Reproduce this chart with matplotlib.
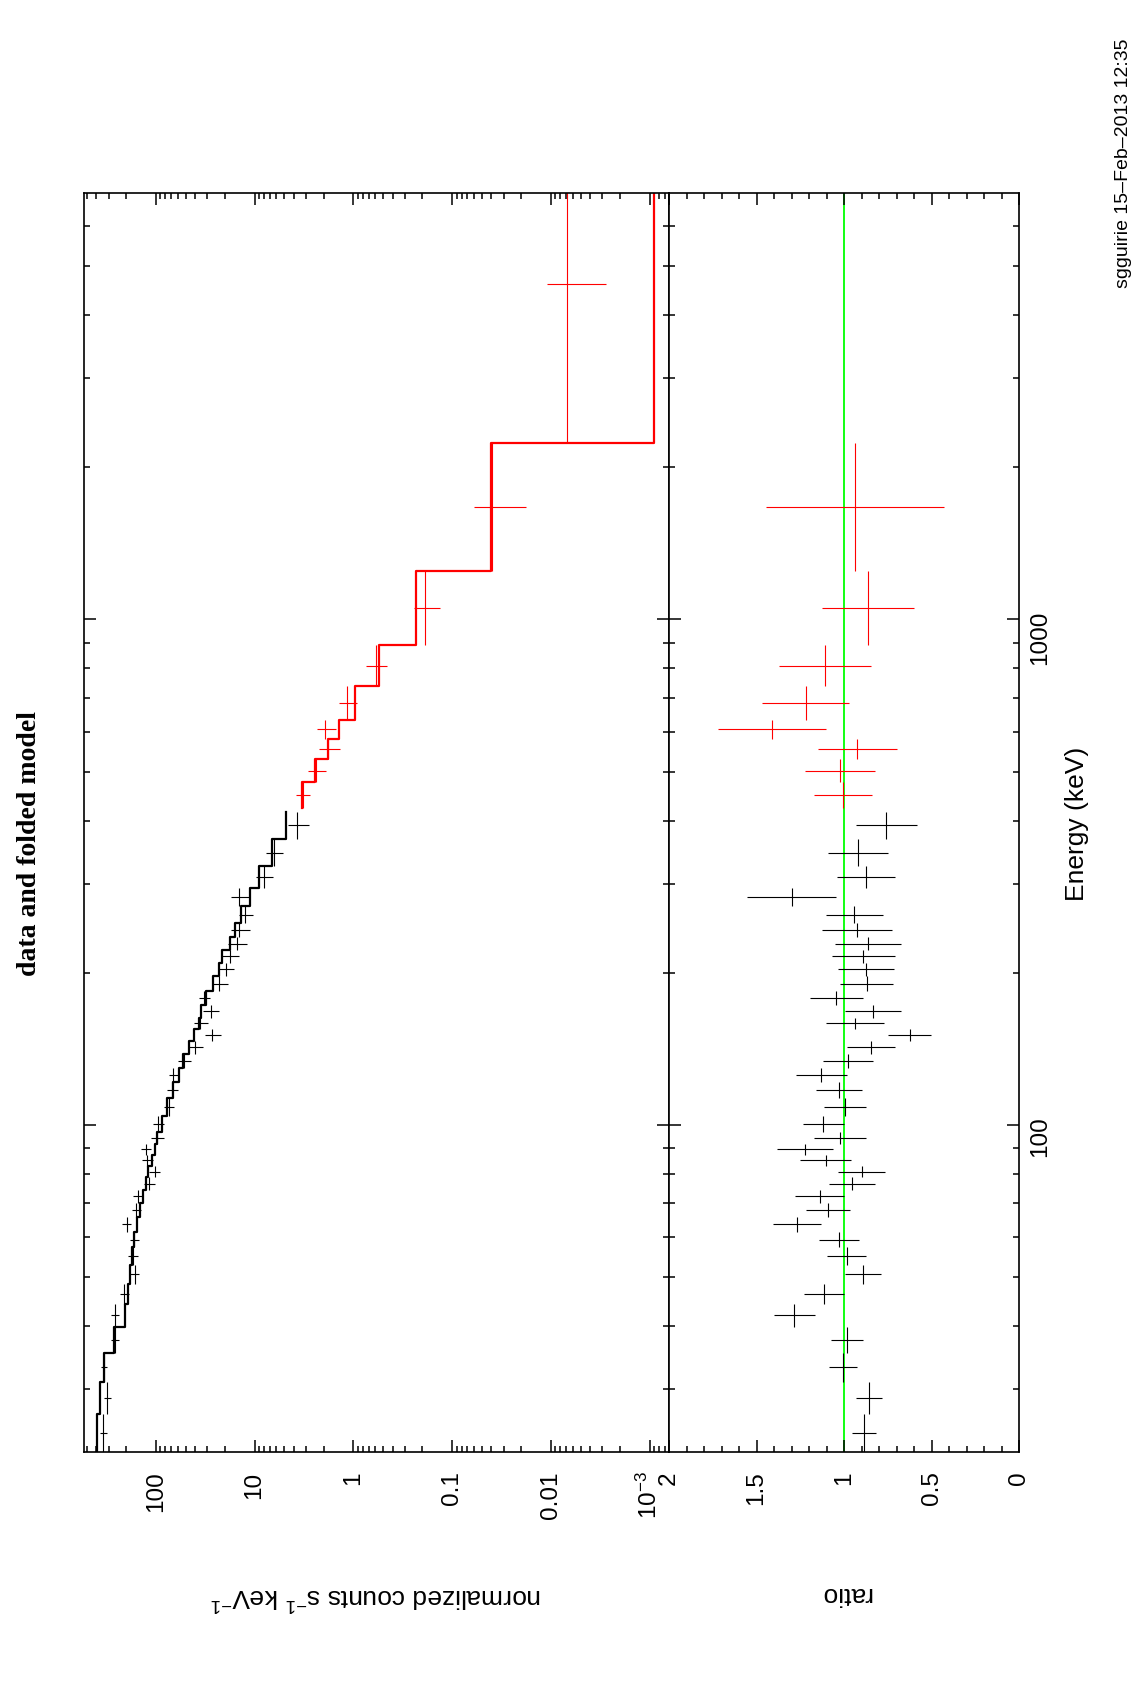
import numpy as np
import matplotlib
matplotlib.use("Agg")
import matplotlib.pyplot as plt
from matplotlib.ticker import FixedLocator, FixedFormatter, LogLocator, MultipleLocator, FormatStrFormatter, NullFormatter

plt.rcParams['font.family'] = ['Liberation Sans', 'DejaVu Sans']
plt.rcParams['mathtext.fontset'] = 'custom'
plt.rcParams['mathtext.rm'] = 'Liberation Sans'
plt.rcParams['mathtext.it'] = 'Liberation Sans:italic'
plt.rcParams['mathtext.bf'] = 'Liberation Sans:bold'

# --- detector 1 (black): energy bin edges (keV), model, data, errors ---
e_edges_k = [22.54, 26.81, 31.01, 35.40, 39.86, 44.24, 48.48, 52.85, 57.24, 61.42,
             65.77, 70.09, 74.37, 78.80, 82.96, 87.23, 91.72, 96.86, 104.2, 112.9,
             121.4, 129.7, 138.2, 146.6, 154.9, 163.1, 172.7, 184.1, 196.9, 209.5,
             222.3, 234.9, 250.4, 270.7, 293.8, 325.1, 367.4, 416.7]
model_k = [391, 367, 335, 265, 204, 190, 182.5, 173, 165, 154, 144.5, 134, 125.6,
           119.1, 110, 101.9, 96.6, 86.5, 76.5, 66.5, 58.2, 52.7, 45.6, 41.0, 36.5,
           34.6, 30.8, 26.4, 22.9, 21.2, 17.8, 15.9, 13.6, 11.1, 9.01, 6.61, 4.77]
data_k = [340, 310, 335, 261, 261, 210, 164, 170, 166, 197, 158, 152, 117, 103, 122,
          127, 96.6, 95.0, 73.5, 68.1, 66.5, 51.8, 40.1, 26.8, 35.7, 27.8, 32.5, 22.9,
          19.6, 17.8, 15.2, 14.3, 12.5, 14.3, 8.02, 6.35, 3.69]
relerr_k = [0.078, 0.085, 0.078, 0.097, 0.093, 0.108, 0.108, 0.116, 0.108, 0.105,
            0.113, 0.116, 0.124, 0.127, 0.131, 0.116, 0.154, 0.136, 0.116, 0.127,
            0.116, 0.142, 0.162, 0.192, 0.162, 0.184, 0.136, 0.181, 0.173, 0.196,
            0.221, 0.221, 0.162, 0.210, 0.192, 0.192, 0.240]
ratio_k = [0.886, 0.859, 1.005, 0.982, 1.284, 1.113, 0.891, 0.984, 1.028, 1.267,
           1.092, 1.14, 0.954, 0.90, 1.105, 1.223, 1.024, 1.119, 0.995, 1.03, 1.131,
           0.978, 0.846, 0.625, 0.937, 0.834, 1.043, 0.87, 0.874, 0.891, 0.862, 0.925,
           0.942, 1.30, 0.875, 0.919, 0.758]
ratio_err_k = [0.070, 0.074, 0.080, 0.092, 0.116, 0.114, 0.102, 0.112, 0.116, 0.136,
               0.128, 0.138, 0.130, 0.132, 0.144, 0.162, 0.150, 0.118, 0.120, 0.130,
               0.146, 0.142, 0.138, 0.124, 0.164, 0.160, 0.154, 0.152, 0.158, 0.180,
               0.188, 0.202, 0.162, 0.256, 0.166, 0.170, 0.174]

# --- detector 2 (red) ---
e_edges_r = [423.8, 476.7, 529.3, 580.9, 632.4, 737.1, 890.5, 1249.6, 2232, 9511]
model_r = [3.33, 2.44, 1.79, 1.405, 0.961, 0.553, 0.230, 0.0406, 8.95e-4]
data_r = [3.25, 2.39, 1.79, 1.93, 1.15, 0.593, 0.188, 0.0391, 6.81e-3]
relerr_r = [0.164, 0.202, 0.244, 0.218, 0.210, 0.240, 0.301, 0.547, 0.592]
ratio_r = [1.005, 1.025, 0.925, 1.41, 1.22, 1.108, 0.862, 0.938, 7.6]
ratio_err_r = [0.164, 0.200, 0.226, 0.308, 0.248, 0.264, 0.262, 0.508, 4.5]

flux_ticks = [100, 10, 1, 0.1, 0.01, 1e-3]
flux_labels = ['100', '10', '1', '0.1', '0.01', r'$10^{-3}$']

W, H = 1134, 1686
fig = plt.figure(figsize=(W / 100, H / 100), dpi=100)


def frac(x0, y0, x1, y1):
    return [x0 / W, 1 - y1 / H, (x1 - x0) / W, (y1 - y0) / H]


ax = fig.add_axes(frac(84, 193, 669, 1452))
axr = fig.add_axes(frac(669, 193, 1019, 1452))


def bins(edges):
    e = np.asarray(edges, float)
    c = np.sqrt(e[:-1] * e[1:])
    return c, [c - e[:-1], e[1:] - c]


def step_xy(edges, vals):
    return np.repeat(vals, 2), np.repeat(edges, 2)[1:-1]


for edges, model, data, rel, ratio, rerr, col in [
        (e_edges_k, model_k, data_k, relerr_k, ratio_k, ratio_err_k, 'black'),
        (e_edges_r, model_r, data_r, relerr_r, ratio_r, ratio_err_r, '#ff0000')]:
    c, yerr = bins(edges)
    d = np.asarray(data)
    ax.errorbar(d, c, xerr=d * np.asarray(rel), yerr=yerr, fmt='none',
                ecolor=col, elinewidth=0.8)
    mx, my = step_xy(edges, model)
    ax.plot(mx, my, color=col, lw=1.6)
    axr.errorbar(ratio, c, xerr=rerr, yerr=yerr, fmt='none', ecolor=col, elinewidth=0.8)

axr.axvline(1, color='#00ff00', lw=1.3, zorder=0.5)

for a in (ax, axr):
    a.set_yscale('log')
    a.set_ylim(22.54, 6977)
    a.yaxis.set_major_locator(FixedLocator([100, 1000]))
    a.yaxis.set_minor_locator(LogLocator(base=10, subs=np.arange(2, 10), numticks=30))
    a.yaxis.set_major_formatter(FixedFormatter(['100', '1000']))
    a.yaxis.set_minor_formatter(NullFormatter())
    a.tick_params(which='both', direction='in', top=True, bottom=True, left=True,
                  right=True, width=1.1, labelsize=17.5)
    a.tick_params(which='major', length=8.3)
    a.tick_params(which='minor', length=4.1)
    a.tick_params(axis='x', labelrotation=90, pad=14)
    for s in a.spines.values():
        s.set_linewidth(1.2)

ax.set_xscale('log')
ax.set_xlim(533, 6.36e-4)
ax.xaxis.set_major_locator(FixedLocator(flux_ticks))
ax.xaxis.set_major_formatter(FixedFormatter(flux_labels))
ax.xaxis.set_minor_locator(LogLocator(base=10, subs=np.arange(2, 10), numticks=50))
ax.xaxis.set_minor_formatter(NullFormatter())
ax.tick_params(axis='y', labelleft=False, labelright=False)

axr.set_xlim(2, 0)
axr.xaxis.set_major_locator(MultipleLocator(0.5))
axr.xaxis.set_minor_locator(MultipleLocator(0.1))
axr.xaxis.set_major_formatter(FormatStrFormatter('%g'))
axr.tick_params(axis='y', labelleft=False, labelright=True, labelrotation=90, pad=7)

fig.text(30 / W, 0.5, 'data and folded model', rotation=90, ha='center', va='center',
         family='Liberation Serif', weight='bold', fontsize=20)
fig.text(1077 / W, 1 - 824 / H, 'Energy (keV)', rotation=90, ha='center', va='center',
         fontsize=19)
fig.text(376 / W, 1 - 1596 / H, r'normalized counts s$^{-1}$ keV$^{-1}$', rotation=180,
         ha='center', va='center', fontsize=19)
fig.text(846 / W, 1 - 1594 / H, 'ratio', rotation=180, ha='center', va='center', fontsize=19)
fig.text(1123 / W, 1 - 163 / H, 'sgguirie 15\u2013Feb\u20132013 12:35', rotation=90,
         ha='center', va='center', fontsize=14)

fig.savefig('out.png', dpi=100)
